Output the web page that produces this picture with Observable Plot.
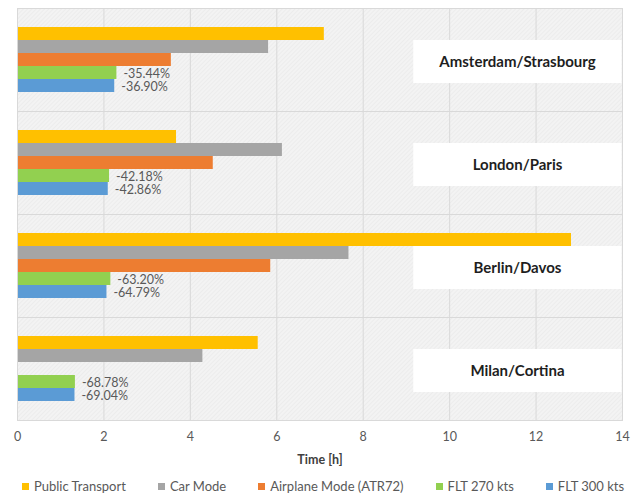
<!DOCTYPE html>
<html><head><meta charset="utf-8">
<script src="https://cdn.jsdelivr.net/npm/d3@7"></script>
<script src="https://cdn.jsdelivr.net/npm/@observablehq/plot@0.6"></script>
<style>
body{margin:0;background:#fff;font-family:Lato,"Open Sans",sans-serif;}
#wrap{width:638px;position:relative;}
#xlabel{text-align:center;font-weight:bold;font-size:12.5px;color:#404040;line-height:16px;height:16px;margin-top:6px;padding-left:2px;}
#legend{display:flex;gap:32px;padding-left:22px;margin-top:10px;font-size:13px;color:#595959;line-height:16px;white-space:nowrap;}
#legend .item{display:flex;align-items:center;}
#legend .sw{width:7px;height:7px;margin-right:5px;}
</style></head><body><div id="wrap"><div id="chart"></div><div id="xlabel"></div><div id="legend"></div></div>
<script>
const routes = ["Amsterdam/Strasbourg", "London/Paris", "Berlin/Davos", "Milan/Cortina"];
const modes = ["Public Transport", "Car Mode", "Airplane Mode (ATR72)", "FLT 270 kts", "FLT 300 kts"];
const colors = ["#FFC000", "#A5A5A5", "#ED7D31", "#92D050", "#5B9BD5"];
const publicTransport = [7.10, 3.68, 12.82, 5.57];
const carMode = [5.81, 6.13, 7.67, 4.29];
const airplaneMode = [3.56, 4.53, 5.86, null];
const flt270 = [2.30, 2.13, 2.16, 1.34];
const flt300 = [2.25, 2.10, 2.07, 1.33];
const pct270 = ["-35.44%", "-42.18%", "-63.20%", "-68.78%"];
const pct300 = ["-36.90%", "-42.86%", "-64.79%", "-69.04%"];
const xTicks = [0, 2, 4, 6, 8, 10, 12, 14];
const xTitle = "Time [h]";

const series = [publicTransport, carMode, airplaneMode, flt270, flt300];
const rows = [];
routes.forEach((r, i) => modes.forEach((m, j) => {
  const v = series[j][i];
  if (v != null) rows.push({route: r, mode: m, value: v});
}));
const labels = [];
routes.forEach((r, i) => {
  labels.push({route: r, mode: modes[3], value: flt270[i], text: pct270[i]});
  labels.push({route: r, mode: modes[4], value: flt300[i], text: pct300[i]});
});

const plot = Plot.plot({
  width: 638, height: 446,
  marginLeft: 17, marginRight: 16, marginTop: 7, marginBottom: 26,
  style: {fontFamily: "Lato, 'Open Sans', sans-serif", fontSize: "12.5px", color: "#595959", background: "transparent"},
  x: {domain: [0, 14], label: null},
  y: {domain: modes, axis: null, paddingInner: 0, paddingOuter: 1.28},
  fy: {domain: routes, axis: null, padding: 0},
  color: {domain: modes, range: colors},
  marks: [
    Plot.frame({fill: "url(#hatch)"}),
    Plot.gridX(xTicks, {stroke: "#d9d9d9", strokeOpacity: 1}),
    Plot.barX(rows, {x: "value", y: "mode", fy: "route", fill: "mode", inset: 0}),
    Plot.rect(routes, {fy: d => d, x1: 9.17, x2: 14, insetTop: 32, insetBottom: 28, insetRight: 0.5, fill: "white"}),
    Plot.text(routes, {fy: d => d, x: 11.57, text: d => d, fontWeight: "bold", fontSize: 15, fill: "#1e1e1e", dy: 2}),
    Plot.text(labels, {x: "value", y: "mode", fy: "route", text: "text", dx: 6.5, dy: 1, textAnchor: "start", fontSize: 12.5, fill: "#595959"}),
    Plot.frame({stroke: "#d9d9d9"}),
    Plot.axisX({ticks: xTicks, tickSize: 0, tickPadding: 12, label: null})
  ]
});

// hatched background pattern
const ns = "http://www.w3.org/2000/svg";
const defs = document.createElementNS(ns, "defs");
defs.innerHTML = '<pattern id="hatch" patternUnits="userSpaceOnUse" width="3" height="3" patternTransform="rotate(45)">' +
  '<rect width="3" height="3" fill="#f3f3f3"></rect><line x1="0" y1="0" x2="0" y2="3" stroke="#e6e6e6" stroke-width="1"></line></pattern>';
plot.insertBefore(defs, plot.firstChild);
document.getElementById("chart").appendChild(plot);

document.getElementById("xlabel").textContent = xTitle;
const legend = document.getElementById("legend");
modes.forEach((m, j) => {
  const it = document.createElement("div");
  it.className = "item";
  const sw = document.createElement("span");
  sw.className = "sw";
  sw.style.background = colors[j];
  const tx = document.createElement("span");
  tx.textContent = m;
  it.appendChild(sw); it.appendChild(tx);
  legend.appendChild(it);
});
</script></body></html>
